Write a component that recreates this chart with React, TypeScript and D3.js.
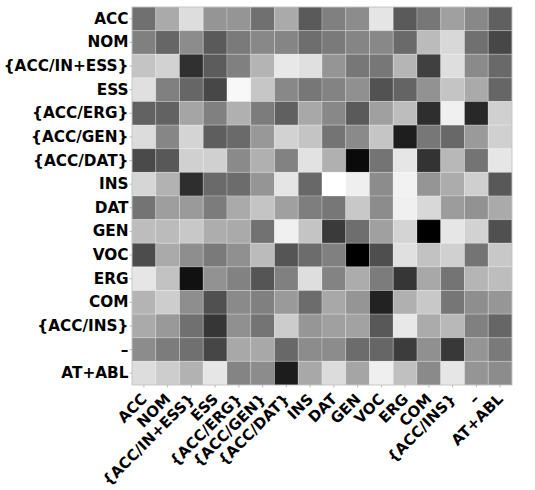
import React from "react";
import * as d3 from "d3";

const labels = [
  "ACC", "NOM", "{ACC/IN+ESS}", "ESS", "{ACC/ERG}", "{ACC/GEN}", "{ACC/DAT}", "INS",
  "DAT", "GEN", "VOC", "ERG", "COM", "{ACC/INS}", "–", "AT+ABL",
];

// gray intensity per cell (0 = black, 255 = white), rows top→bottom, columns left→right
const row00 = [112, 170, 221, 149, 149, 112, 170, 90, 128, 140, 229, 90, 119, 160, 136, 96];
const row01 = [128, 102, 140, 90, 122, 136, 133, 110, 122, 133, 136, 106, 187, 216, 112, 71];
const row02 = [196, 210, 48, 92, 128, 180, 232, 224, 149, 119, 119, 181, 64, 222, 138, 105];
const row03 = [224, 128, 102, 71, 248, 198, 136, 119, 131, 144, 82, 100, 146, 196, 170, 102];
const row04 = [98, 98, 165, 128, 176, 124, 96, 168, 136, 90, 160, 189, 46, 240, 40, 208];
const row05 = [220, 134, 212, 94, 106, 152, 210, 196, 116, 138, 197, 30, 119, 104, 154, 208];
const row06 = [74, 88, 208, 208, 138, 176, 130, 226, 176, 10, 116, 230, 51, 184, 116, 230];
const row07 = [214, 178, 46, 106, 108, 149, 229, 104, 255, 239, 140, 242, 149, 172, 207, 88];
const row08 = [116, 158, 154, 124, 170, 196, 160, 126, 119, 200, 140, 240, 216, 156, 146, 170];
const row09 = [189, 187, 200, 173, 170, 114, 240, 196, 58, 110, 160, 212, 0, 230, 210, 80];
const row10 = [76, 170, 142, 122, 144, 187, 85, 108, 128, 0, 78, 224, 194, 208, 116, 200];
const row11 = [230, 194, 17, 146, 130, 85, 128, 222, 131, 172, 124, 54, 168, 116, 181, 189];
const row12 = [180, 205, 142, 80, 138, 128, 154, 108, 168, 149, 34, 176, 200, 118, 142, 150];
const row13 = [170, 153, 112, 54, 144, 116, 204, 150, 160, 162, 88, 232, 171, 184, 128, 102];
const row14 = [140, 124, 112, 70, 168, 168, 104, 140, 140, 108, 102, 60, 144, 56, 149, 122];
const row15 = [221, 205, 178, 230, 132, 140, 28, 168, 220, 165, 239, 192, 138, 230, 149, 140];

const rows = [row00, row01, row02, row03, row04, row05, row06, row07, row08, row09, row10, row11, row12, row13, row14, row15];

const W = 535;
const H = 490;
const left = 132;
const right = 512;
const top = 7;
const bottom = 385;
const font = "'DejaVu Sans', sans-serif";
const fs = 15.3;
const fsX = 15;

export default function App() {
  const x = d3.scaleBand<string>().domain(labels).range([left, right]);
  const y = d3.scaleBand<string>().domain(labels).range([top, bottom]);
  const color = d3.scaleLinear<string>().domain([0, 255]).range(["#000000", "#ffffff"]);

  const cells: React.ReactNode[] = [];
  rows.forEach((r, i) => {
    r.forEach((v, j) => {
      cells.push(
        <rect
          key={`${i}-${j}`}
          x={x(labels[j])}
          y={y(labels[i])}
          width={x.bandwidth()}
          height={y.bandwidth()}
          fill={color(v)}
          stroke="#ffffff"
          strokeOpacity={0.22}
          strokeWidth={1}
        />
      );
    });
  });

  return (
    <svg
      width={W}
      height={H}
      style={{ position: "absolute", left: 0, top: 0, background: "#fff" }}
    >
      <g>{cells}</g>
      <rect x={left} y={top} width={right - left} height={bottom - top} fill="none" stroke="#bbbbbb" strokeWidth={0.8} />
      {labels.map((l) => {
        const cy = (y(l) as number) + y.bandwidth() / 2;
        return (
          <g key={"y" + l}>
            <line x1={left - 2.5} x2={left} y1={cy} y2={cy} stroke="#aaaaaa" strokeWidth={0.8} />
            <text
              x={left - 3.5}
              y={cy}
              textAnchor="end"
              dominantBaseline="central"
              fontFamily={font}
              fontWeight="bold"
              fontSize={fs}
              fill="#000"
            >
              {l}
            </text>
          </g>
        );
      })}
      {labels.map((l) => {
        const cx = (x(l) as number) + x.bandwidth() / 2;
        const ax = cx + 4;
        const ay = bottom + 15;
        return (
          <g key={"x" + l}>
            <line x1={cx} x2={cx} y1={bottom} y2={bottom + 2.5} stroke="#aaaaaa" strokeWidth={0.8} />
            <text
              x={ax}
              y={ay}
              textAnchor="end"
              transform={`rotate(-45 ${ax} ${ay})`}
              fontFamily={font}
              fontWeight="bold"
              fontSize={fsX}
              fill="#000"
            >
              {l}
            </text>
          </g>
        );
      })}
    </svg>
  );
}
